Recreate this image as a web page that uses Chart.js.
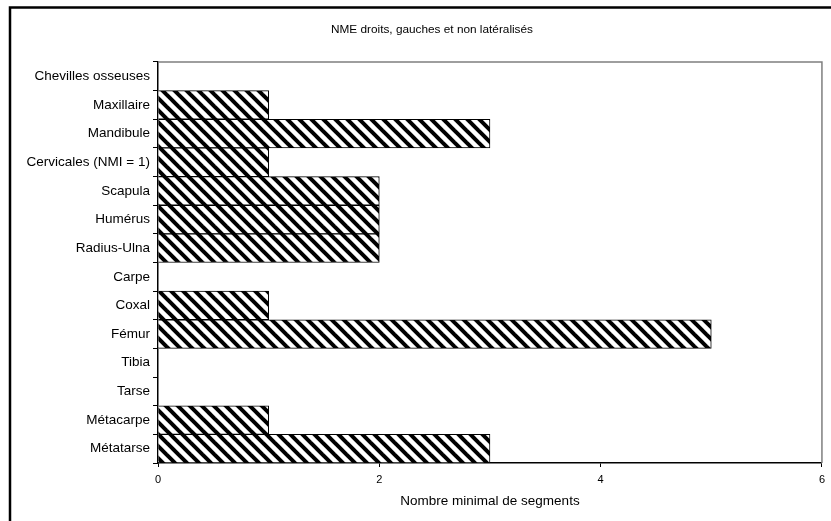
<!DOCTYPE html>
<html>
<head>
<meta charset="utf-8">
<script src="https://cdn.jsdelivr.net/npm/chart.js@4/dist/chart.umd.min.js"></script>
<style>
  html, body { margin: 0; padding: 0; background: #fff; }
  #wrap { width: 831px; height: 521px; }
</style>
</head>
<body>
<div id="wrap"><canvas id="graphe" width="831" height="521"></canvas></div>
<script>
// données
const categories = [
    "Chevilles osseuses", "Maxillaire", "Mandibule", "Cervicales (NMI = 1)",
    "Scapula", "Humérus", "Radius-Ulna", "Carpe", "Coxal", "Fémur",
    "Tibia", "Tarse", "Métacarpe", "Métatarse"
];
const valeurs = [0, 1, 3, 1, 2, 2, 2, 0, 1, 5, 0, 0, 1, 3];
const titre = "NME droits, gauches et non latéralisés";
const titreAxeX = "Nombre minimal de segments";
const ticksX = [0, 2, 4, 6];

// motif hachuré (diagonales)
function motifHachure() {
    const t = 12;
    const c = document.createElement("canvas");
    c.width = t; c.height = t;
    const g = c.getContext("2d");
    g.fillStyle = "#fff";
    g.fillRect(0, 0, t, t);
    g.strokeStyle = "#000";
    g.lineWidth = 4;
    for (let k = -1; k <= 1; k++) {
        g.beginPath();
        g.moveTo(k * t - 2, -2);
        g.lineTo(k * t + t + 2, t + 2);
        g.stroke();
    }
    return g.createPattern(c, "repeat");
}

const ctx = document.getElementById("graphe").getContext("2d");

// cadre extérieur, titre (centré sur le cadre) et bordure grise du graphique
const cadre = {
    id: "cadre",
    beforeDraw: function(chart) {
        const c = chart.ctx;
        c.save();
        c.fillStyle = "#fff";
        c.fillRect(0, 0, chart.width, chart.height);
        c.restore();
    },
    afterDraw: function(chart) {
        const c = chart.ctx;
        const a = chart.chartArea;
        c.save();
        c.strokeStyle = "#000";
        c.lineWidth = 2.5;
        c.beginPath();
        c.moveTo(10, chart.height + 5);
        c.lineTo(10, 7.5);
        c.lineTo(chart.width + 5, 7.5);
        c.stroke();
        c.strokeStyle = "#7f7f7f";
        c.lineWidth = 1.5;
        c.beginPath();
        c.moveTo(a.left, a.top);
        c.lineTo(a.right, a.top);
        c.lineTo(a.right, a.bottom);
        c.stroke();
        // titre
        c.fillStyle = "#000";
        c.font = "11.8px 'Liberation Sans', Arial";
        c.textAlign = "center";
        c.textBaseline = "middle";
        c.fillText(titre, 432, 30);
        c.restore();
    }
};

new Chart(ctx, {
    type: "bar",
    data: {
        labels: categories,
        datasets: [{
            data: valeurs,
            backgroundColor: motifHachure(),
            borderColor: "#000",
            borderWidth: 1,
            categoryPercentage: 1.0,
            barPercentage: 1.0
        }]
    },
    options: {
        indexAxis: "y",
        responsive: false,
        animation: false,
        layout: { padding: { left: 0, right: 7, top: 62, bottom: 0 } },
        plugins: {
            legend: { display: false },
            tooltip: { enabled: false },
            title: { display: false }
        },
        scales: {
            x: {
                min: 0,
                max: 6,
                afterBuildTicks: function(scale) {
                    scale.ticks = ticksX.map(v => ({ value: v }));
                },
                afterFit: function(scale) { scale.height = 58; },
                grid: { drawOnChartArea: false, drawTicks: true, tickLength: 4, color: "#000" },
                border: { color: "#000", width: 1.5 },
                ticks: {
                    color: "#000",
                    padding: 6,
                    font: { family: "Liberation Sans, Arial", size: 11 }
                },
                title: {
                    display: true,
                    text: titreAxeX,
                    color: "#000",
                    font: { family: "Liberation Sans, Arial", size: 13.5 },
                    padding: { top: 4, bottom: 12 }
                }
            },
            y: {
                afterFit: function(scale) { scale.width = 158; },
                grid: { drawOnChartArea: false, drawTicks: true, tickLength: 5, color: "#000", offset: true },
                border: { color: "#000", width: 1.5 },
                ticks: {
                    color: "#000",
                    padding: 3,
                    font: { family: "Liberation Sans, Arial", size: 13.5 }
                }
            }
        }
    },
    plugins: [cadre]
});
</script>
</body>
</html>
